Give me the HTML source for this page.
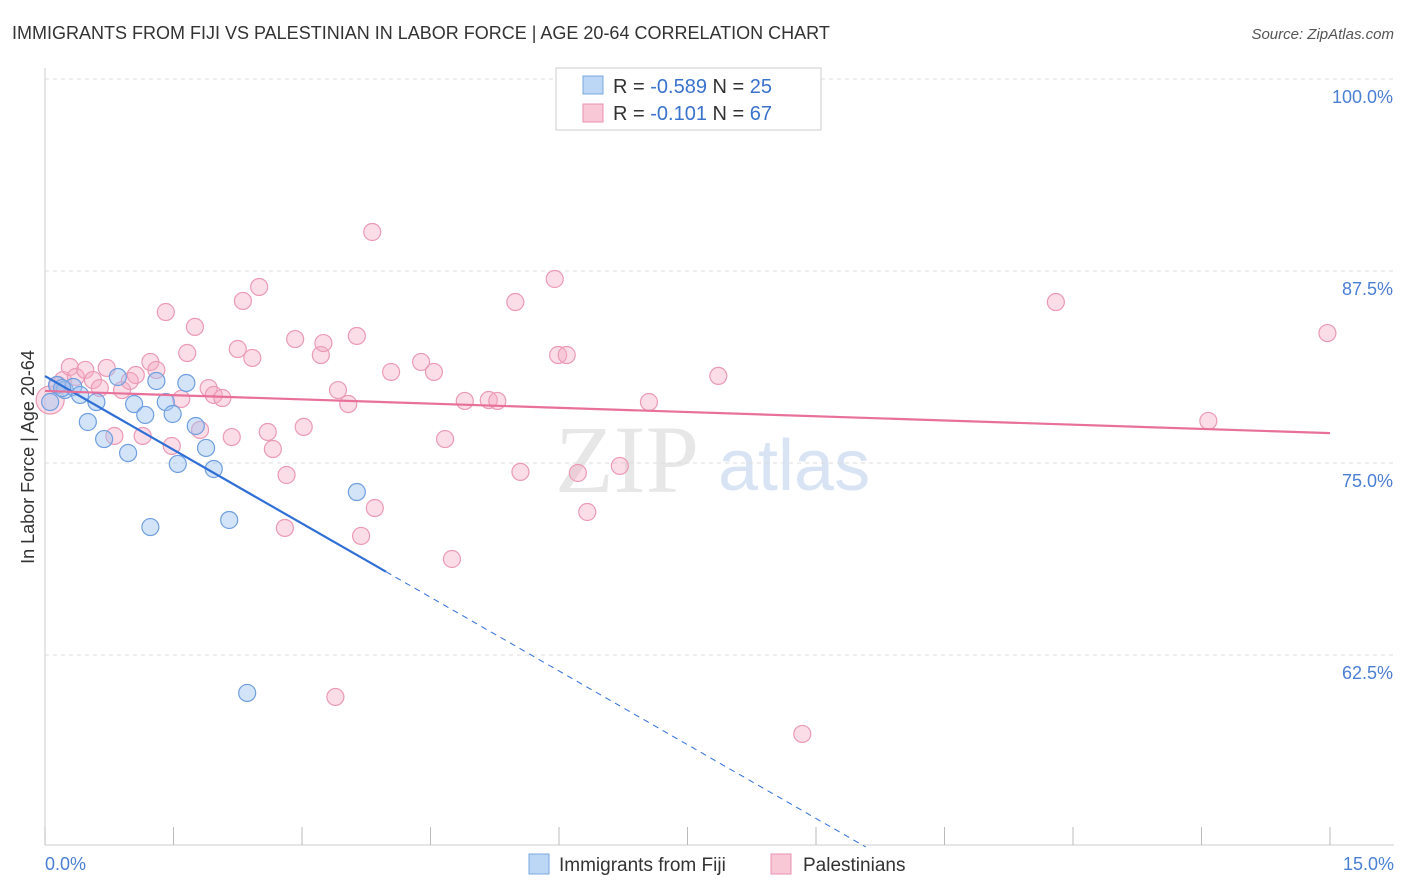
<!DOCTYPE html>
<html><head><meta charset="utf-8"><style>
body{margin:0;background:#fff;font-family:"Liberation Sans",sans-serif;}
#wrap{position:relative;width:1406px;height:892px;overflow:hidden}
</style></head><body>
<div id="wrap">
<svg id="svg" width="1406" height="892" xmlns="http://www.w3.org/2000/svg">
<text x="12" y="39" font-size="18" fill="#333">IMMIGRANTS FROM FIJI VS PALESTINIAN IN LABOR FORCE | AGE 20-64 CORRELATION CHART</text>
<text x="1394" y="39" font-size="15" fill="#555" font-style="italic" text-anchor="end">Source: ZipAtlas.com</text>
<text x="34" y="457" font-size="18" fill="#333" text-anchor="middle" transform="rotate(-90 34 457)">In Labor Force | Age 20-64</text>
<text x="555" y="492" font-size="96" fill="#ddd" font-family="Liberation Serif" opacity="0.7">ZIP</text>
<text x="718" y="490" font-size="72" fill="#c8daf0" opacity="0.7">atlas</text>
<g id="grid"></g><g id="pts"></g><g id="lines"></g>
<g>
<rect x="556" y="68" width="265" height="62" fill="#fff" stroke="#ccc"/>
<rect x="583" y="76" width="20" height="18" fill="#bcd6f5" stroke="#7aa8e0"/>
<text x="613" y="93" font-size="20" fill="#333">R = <tspan fill="#3a73cc">-0.589</tspan>   N = <tspan fill="#3a73cc">25</tspan></text>
<rect x="583" y="104" width="20" height="18" fill="#f9c8d6" stroke="#e890b0"/>
<text x="613" y="120" font-size="20" fill="#333">R =  <tspan fill="#3a73cc">-0.101</tspan>   N = <tspan fill="#3a73cc">67</tspan></text>
</g>
<g>
<rect x="529" y="854" width="20" height="20" fill="#bcd6f5" stroke="#7aa8e0"/>
<text x="559" y="871" font-size="19" fill="#333">Immigrants from Fiji</text>
<rect x="771" y="854" width="20" height="20" fill="#f9c8d6" stroke="#e890b0"/>
<text x="803" y="871" font-size="19" fill="#333">Palestinians</text>
</g>
</svg></div>
<script>
const fijiX=[0.06,0.14,0.23,0.33,0.41,0.50,0.60,0.69,0.85,0.97,1.04,1.17,1.23,1.30,1.41,1.49,1.55,1.65,1.76,1.88,1.97,2.15,2.36,3.64,0.20];
const fijiY=[78.97,80.08,79.75,79.95,79.43,77.67,78.97,76.56,80.60,75.65,78.84,78.13,70.83,80.34,78.97,78.19,74.94,80.21,77.41,75.98,74.61,71.29,60.03,73.11,79.88];
const palX=[0.06,0.15,0.21,0.29,0.36,0.47,0.56,0.64,0.72,0.81,0.90,0.99,1.06,1.14,1.23,1.30,1.41,1.48,1.59,1.66,1.75,1.81,1.91,1.97,2.07,2.18,2.25,2.31,2.42,2.50,2.60,2.66,2.82,2.80,2.92,3.02,3.22,3.25,3.42,3.54,3.64,3.69,3.82,3.85,4.04,4.39,4.54,4.67,4.75,4.90,5.18,5.28,5.49,5.55,5.95,5.99,6.09,6.22,6.33,6.71,7.05,7.86,8.84,11.80,13.58,14.97,3.39];
const palY=[79.10,80.08,80.40,81.25,80.60,81.06,80.40,79.88,81.19,76.76,79.75,80.34,80.73,76.76,81.58,81.06,84.83,76.11,79.17,82.16,83.86,77.15,79.88,79.43,79.23,76.69,82.42,85.55,81.84,86.46,77.02,75.91,74.22,70.77,83.07,77.35,82.03,82.81,79.75,78.84,83.27,70.25,90.04,72.07,80.93,81.58,80.93,76.56,68.75,79.04,79.10,79.04,85.48,74.42,86.98,82.03,82.03,74.35,71.81,74.81,78.97,80.67,57.36,85.48,77.74,83.46,59.77];
const yTicks=[100,87.5,75,62.5];
const yTickLabels=["100.0%","87.5%","75.0%","62.5%"];
const fijiTrend=[80.66,-3.2];
const palTrend=[79.69,-0.183];
const X=v=>45+v/15*1285, Y=v=>79+(100-v)*15.36;
const NS="http://www.w3.org/2000/svg";
function mk(p,t,a){const e=document.createElementNS(NS,t);for(const k in a)e.setAttribute(k,a[k]);p.appendChild(e);return e;}
const g=document.getElementById('grid');
yTicks.forEach((t,i)=>{
 const l=mk(g,'line',{x1:45,x2:1394,y1:Y(t),y2:Y(t),stroke:'#ddd','stroke-dasharray':'4 4'});
 
 
 const tx=mk(g,'text',{x:1393,y:Y(t)+24,'font-size':18,fill:'#4a7fd4','text-anchor':'end'});tx.textContent=yTickLabels[i];
 
 
});
mk(g,'line',{x1:45,x2:45,y1:68,y2:845,stroke:'#ccc'});
mk(g,'line',{x1:45,x2:1394,y1:845,y2:845,stroke:'#ccc'});
for(let i=0;i<=10;i++){const t=mk(g,'line',{x1:X(i*1.5),x2:X(i*1.5),y1:827,y2:845,stroke:'#bbb'});
 
 }
let a=mk(g,'text',{x:45,y:870,'font-size':18,fill:'#4a7fd4'});a.textContent='0.0%';

a=mk(g,'text',{x:1394,y:870,'font-size':18,fill:'#4a7fd4','text-anchor':'end'});a.textContent='15.0%';

const P=document.getElementById('pts');
palX.forEach((x,i)=>{const c=mk(P,'circle',{cx:X(x),cy:Y(palY[i]),r:i==0?14:8.5,fill:'rgba(245,170,195,0.4)',stroke:'#eb9ab5','stroke-width':1.2});
 
 });
fijiX.forEach((x,i)=>{const c=mk(P,'circle',{cx:X(x),cy:Y(fijiY[i]),r:8.5,fill:'rgba(160,195,240,0.45)',stroke:'#6f9fe0','stroke-width':1.2});
 
 });
const L=document.getElementById('lines');
let ln=mk(L,'line',{x1:X(0),y1:Y(fijiTrend[0]),x2:X(3.98),y2:Y(fijiTrend[0]+fijiTrend[1]*3.98),stroke:'#2f6fd6','stroke-width':2.2});


const xe=(50-fijiTrend[0])/fijiTrend[1];
ln=mk(L,'line',{x1:X(3.98),y1:Y(fijiTrend[0]+fijiTrend[1]*3.98),x2:X(xe),y2:Y(50),stroke:'#2f6fd6','stroke-width':1,'stroke-dasharray':'6 5'});


ln=mk(L,'line',{x1:X(0),y1:Y(palTrend[0]),x2:X(15),y2:Y(palTrend[0]+palTrend[1]*15),stroke:'#e8709a','stroke-width':2.2});


</script>
</body></html>
